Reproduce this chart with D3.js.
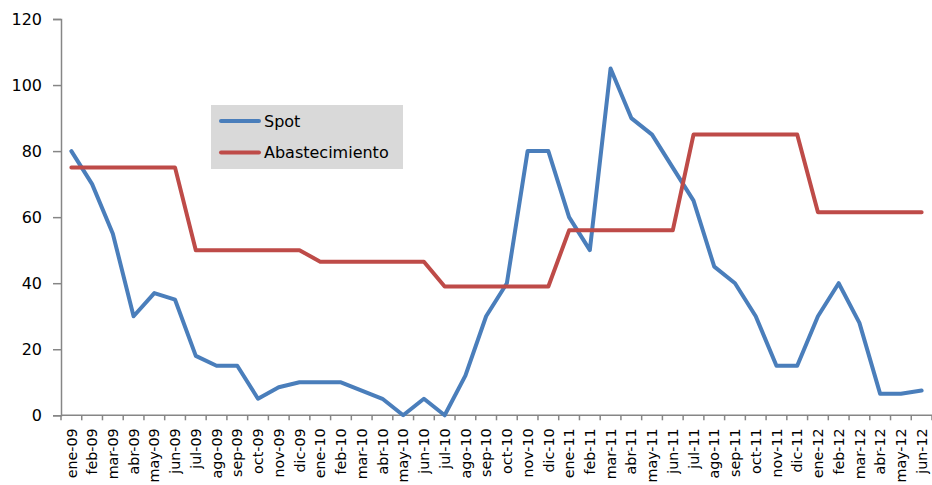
<!DOCTYPE html>
<html>
<head>
<meta charset="utf-8">
<script src="https://cdn.jsdelivr.net/npm/d3@7"></script>
<style>
  body { margin: 0; background: #fff; }
  svg { display: block; }
</style>
</head>
<body>
<svg id="chart" width="932" height="485"></svg>
<script>
const months = ["ene-09","feb-09","mar-09","abr-09","may-09","jun-09","jul-09","ago-09","sep-09","oct-09","nov-09","dic-09",
  "ene-10","feb-10","mar-10","abr-10","may-10","jun-10","jul-10","ago-10","sep-10","oct-10","nov-10","dic-10",
  "ene-11","feb-11","mar-11","abr-11","may-11","jun-11","jul-11","ago-11","sep-11","oct-11","nov-11","dic-11",
  "ene-12","feb-12","mar-12","abr-12","may-12","jun-12"];
const spot = [80,70,55,30,37,35,18,15,15,5,8.5,10,
  10,10,7.5,5,0,5,0,12,30,40,80,80,
  60,50,105,90,85,75,65,45,40,30,15,15,
  30,40,28,6.5,6.5,7.5];
const abastecimiento = [75,75,75,75,75,75,50,50,50,50,50,50,
  46.5,46.5,46.5,46.5,46.5,46.5,39,39,39,39,39,39,
  56,56,56,56,56,56,85,85,85,85,85,85,
  61.5,61.5,61.5,61.5,61.5,61.5];
const yTicks = [0,20,40,60,80,100,120];
const seriesNames = ["Spot","Abastecimiento"];
const colors = ["#4A7EBB","#BE4B48"];

const svg = d3.select("#chart");
const mLeft = 61, mRight = 932, mTop = 19, mBottom = 415.3;
const axisColor = "#868686";

const x = d3.scaleBand().domain(months).range([mLeft, mRight]).padding(0);
const y = d3.scaleLinear().domain([0,120]).range([mBottom, mTop]);

// Y axis
const yAxis = svg.append("g")
  .attr("transform", `translate(${mLeft},0)`)
  .call(d3.axisLeft(y).tickValues(yTicks).tickSize(8).tickPadding(11).tickFormat(d3.format("d")));
yAxis.select(".domain").attr("stroke", axisColor).attr("stroke-width", 1.5);
yAxis.selectAll(".tick line").attr("stroke", axisColor).attr("stroke-width", 1.5);
yAxis.selectAll(".tick text")
  .attr("font-family", "DejaVu Sans")
  .attr("font-size", "16px")
  .attr("fill", "#000")
  .attr("dy", "0.34em");

// X axis
const xg = svg.append("g");
xg.append("line")
  .attr("x1", mLeft).attr("x2", mRight)
  .attr("y1", mBottom).attr("y2", mBottom)
  .attr("stroke", axisColor).attr("stroke-width", 1.5);
const boundaries = months.map(m => x(m)).concat([x.range()[1]]);
xg.selectAll("line.tk").data(boundaries).join("line")
  .attr("class","tk")
  .attr("x1", d => d).attr("x2", d => d)
  .attr("y1", mBottom).attr("y2", mBottom + 5)
  .attr("stroke", axisColor).attr("stroke-width", 1.5);
xg.selectAll("text").data(months).join("text")
  .attr("transform", d => `translate(${x(d) + x.bandwidth()/2},${mBottom + 13}) rotate(-90)`)
  .attr("text-anchor", "end")
  .attr("dy", "0.36em")
  .attr("font-family", "DejaVu Sans")
  .attr("font-size", "14.3px")
  .attr("fill", "#000")
  .text(d => d);

// Lines
const line = d3.line()
  .x((d,i) => x(months[i]) + x.bandwidth()/2)
  .y(d => y(d));
[spot, abastecimiento].forEach((s, k) => {
  svg.append("path")
    .datum(s)
    .attr("d", line)
    .attr("fill", "none")
    .attr("stroke", colors[k])
    .attr("stroke-width", 4)
    .attr("stroke-linejoin", "round")
    .attr("stroke-linecap", "round");
});

// Legend
const lg = svg.append("g");
lg.append("rect").attr("x", 211).attr("y", 105).attr("width", 192).attr("height", 64).attr("fill", "#D9D9D9");
seriesNames.forEach((n, k) => {
  const yy = 121 + k * 31.5;
  lg.append("line").attr("x1", 221).attr("x2", 259).attr("y1", yy).attr("y2", yy)
    .attr("stroke", colors[k]).attr("stroke-width", 4).attr("stroke-linecap", "round");
  lg.append("text").attr("x", 264).attr("y", yy).attr("dy", "0.35em")
    .attr("font-family", "DejaVu Sans").attr("font-size", "16px").attr("fill", "#000")
    .text(n);
});
</script>
</body>
</html>
